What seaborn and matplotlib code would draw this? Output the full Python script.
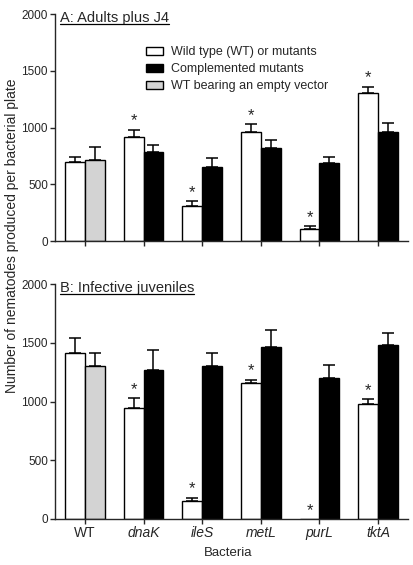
import matplotlib
matplotlib.use("Agg")
import matplotlib.pyplot as plt
import matplotlib.patches as mpatches
import numpy as np
import pandas as pd
import seaborn as sns

genes = ["WT", "dnaK", "ileS", "metL", "purL", "tktA"]

# panel A: adults plus J4
a_left = [695, 915, 312, 960, 112, 1303]
a_left_err = [48, 68, 43, 73, 20, 58]
a_right = [717, 787, 655, 822, 688, 958]
a_right_err = [115, 57, 75, 68, 57, 80]
a_star = [False, True, True, True, True, True]

# panel B: infective juveniles
b_left = [1418, 945, 152, 1158, 0, 980]
b_left_err = [125, 82, 30, 30, 0, 42]
b_right = [1300, 1268, 1302, 1468, 1200, 1484]
b_right_err = [115, 172, 112, 140, 113, 98]
b_star = [False, True, True, True, True, True]

legend_labels = ["Wild type (WT) or mutants", "Complemented mutants",
                 "WT bearing an empty vector"]
panel_titles = ["A: Adults plus J4", "B: Infective juveniles"]

sns.set_theme(style="ticks")
plt.rcParams["font.family"] = ["Liberation Sans", "DejaVu Sans"]
plt.rcParams["axes.linewidth"] = 1.0

fig = plt.figure(figsize=(4.13, 5.65), dpi=100)
ax_a = fig.add_axes([0.133, 0.573, 0.855, 0.402])
ax_b = fig.add_axes([0.133, 0.0815, 0.855, 0.4155])


def draw_panel(ax, left, left_err, right, right_err, stars, title, labels):
    df = pd.DataFrame({
        "gene": genes * 2,
        "slot": ["left"] * 6 + ["right"] * 6,
        "count": left + right,
    })
    sns.barplot(data=df, x="gene", y="count", hue="slot", order=genes,
                hue_order=["left", "right"], palette=["white", "black"],
                edgecolor="black", linewidth=1.0, width=0.68, errorbar=None,
                legend=False, ax=ax)
    bars = ax.patches[:12]
    # empty vector bar for WT is grey
    bars[6].set_facecolor("#d3d3d3")
    errs = left_err + right_err
    for bar, e in zip(bars, errs):
        if e <= 0:
            continue
        xc = bar.get_x() + bar.get_width() / 2
        top = bar.get_height()
        ax.errorbar([xc], [top], yerr=[[0], [e]], fmt="none", ecolor="black",
                    elinewidth=1.1, capsize=4.2, capthick=1.1, zorder=1)
    for i, s in enumerate(stars):
        if not s:
            continue
        bar = bars[i]
        xc = bar.get_x() + bar.get_width() / 2
        ytop = bar.get_height() + left_err[i]
        ax.text(xc, ytop + 10, "*", ha="center", va="bottom", fontsize=12)
    ax.set_ylim(0, 2000)
    ax.set_xlim(-0.51, 5.51)
    ax.set_yticks([0, 500, 1000, 1500, 2000])
    ax.tick_params(axis="both", length=3.5, width=1.0, pad=1.5)
    ax.tick_params(axis="y", labelsize=8.5)
    ax.tick_params(axis="x", labelsize=10)
    ax.set_xlabel("")
    ax.set_ylabel("")
    if labels:
        ax.set_xticks(range(6))
        ax.set_xticklabels(genes)
        for lab in ax.get_xticklabels():
            if lab.get_text() != "WT":
                lab.set_style("italic")
    else:
        ax.set_xticklabels([])
    sns.despine(ax=ax)
    t = ax.text(0.014, 0.985, title, transform=ax.transAxes, ha="left",
                va="center", fontsize=10.5)
    return t


t_a = draw_panel(ax_a, a_left, a_left_err, a_right, a_right_err, a_star,
                 panel_titles[0], False)
t_b = draw_panel(ax_b, b_left, b_left_err, b_right, b_right_err, b_star,
                 panel_titles[1], True)

handles = [mpatches.Patch(facecolor=c, edgecolor="black", linewidth=1.0)
           for c in ["white", "black", "#d3d3d3"]]
ax_a.legend(handles, legend_labels, loc="upper left",
            bbox_to_anchor=(0.245, 0.88), frameon=False, fontsize=9,
            handlelength=1.35, handleheight=0.55, labelspacing=0.4,
            handletextpad=0.65, borderaxespad=0)

fig.text(0.028, 0.582, "Number of nematodes produced per bacterial plate",
         rotation=90, ha="center", va="center", fontsize=10)
fig.text(0.553, 0.021, "Bacteria", ha="center", va="center", fontsize=9.5)

# underline the panel titles
fig.canvas.draw()
renderer = fig.canvas.get_renderer()
inv = fig.transFigure.inverted()
for t in [t_a, t_b]:
    bb = t.get_window_extent(renderer)
    (x0, y0), (x1, y1) = inv.transform([[bb.x0, bb.y0], [bb.x1, bb.y1]])
    fig.add_artist(plt.Line2D([x0, x1], [y0 + 0.001, y0 + 0.001],
                              transform=fig.transFigure, color="black",
                              linewidth=0.9))

fig.savefig("out.png", dpi=100)
